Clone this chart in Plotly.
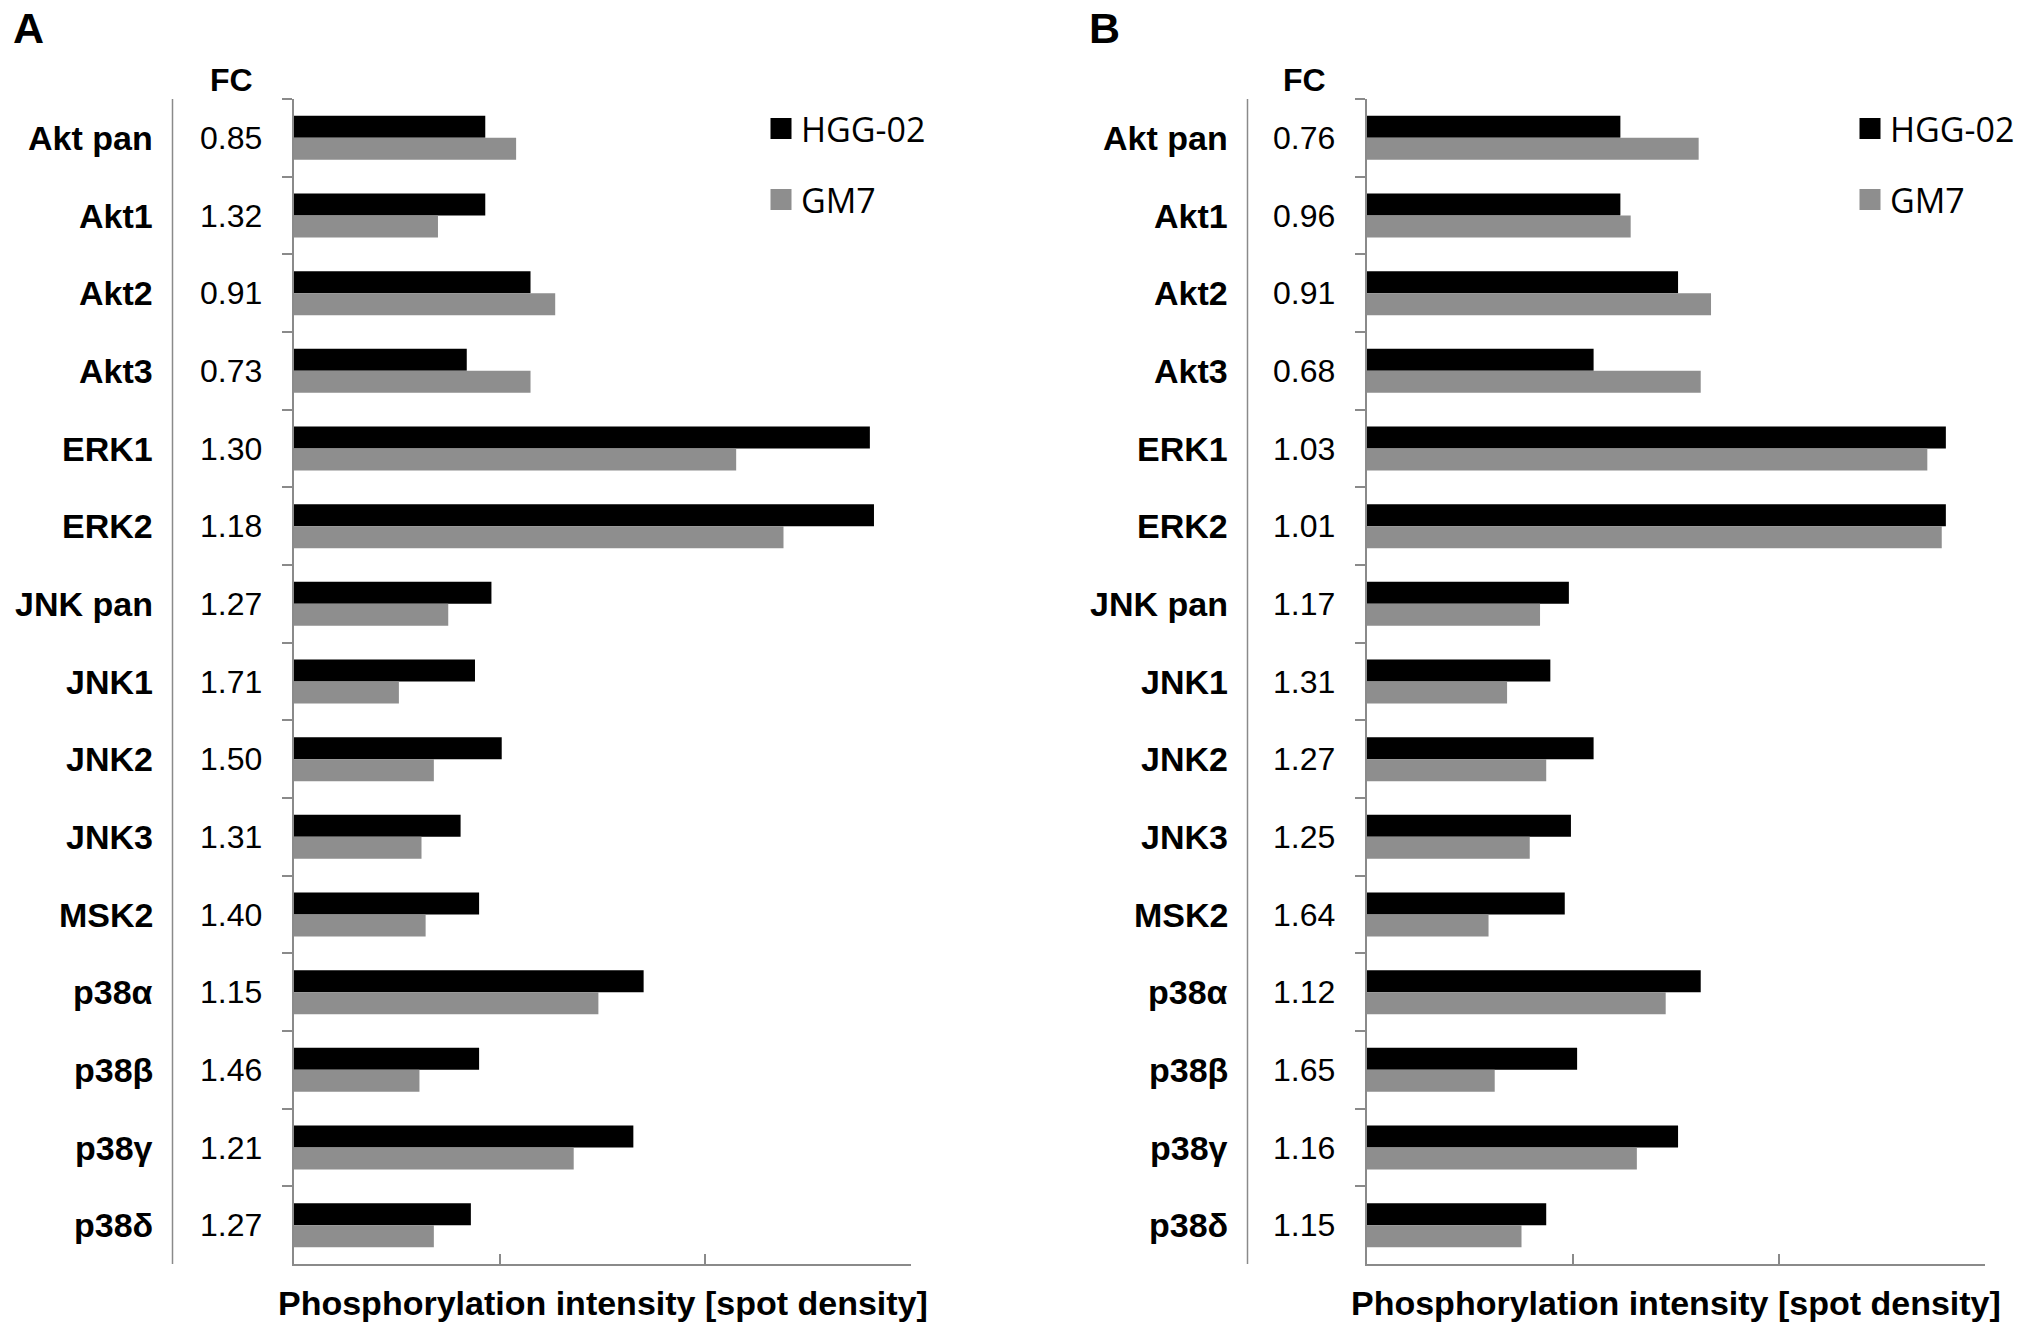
import plotly.graph_objects as go

W, H = 2031, 1335

categories = ["Akt pan", "Akt1", "Akt2", "Akt3", "ERK1", "ERK2", "JNK pan", "JNK1",
              "JNK2", "JNK3", "MSK2", "p38α", "p38β", "p38γ", "p38δ"]

# Panel A values (spot density, axis units)
a_hgg = [0.93, 0.93, 1.15, 0.84, 2.80, 2.82, 0.96, 0.88, 1.01, 0.81, 0.90, 1.70, 0.90, 1.65, 0.86]
a_gm7 = [1.08, 0.70, 1.27, 1.15, 2.15, 2.38, 0.75, 0.51, 0.68, 0.62, 0.64, 1.48, 0.61, 1.36, 0.68]
a_fc = ["0.85", "1.32", "0.91", "0.73", "1.30", "1.18", "1.27", "1.71", "1.50", "1.31",
        "1.40", "1.15", "1.46", "1.21", "1.27"]

# Panel B values
b_hgg = [1.23, 1.23, 1.51, 1.10, 2.81, 2.81, 0.98, 0.89, 1.10, 0.99, 0.96, 1.62, 1.02, 1.51, 0.87]
b_gm7 = [1.61, 1.28, 1.67, 1.62, 2.72, 2.79, 0.84, 0.68, 0.87, 0.79, 0.59, 1.45, 0.62, 1.31, 0.75]
b_fc = ["0.76", "0.96", "0.91", "0.68", "1.03", "1.01", "1.17", "1.31", "1.27", "1.25",
        "1.64", "1.12", "1.65", "1.16", "1.15"]

series_names = ["HGG-02", "GM7"]
x_ticks = [0, 1, 2, 3]
axis_title = "Phosphorylation intensity [spot density]"

BLACK = "#000000"
GRAY = "#8e8e8e"
AXIS = "#8a8a8a"
FONT = "Liberation Sans, Arial, sans-serif"
LEG_FONT = "Open Sans, Liberation Sans, sans-serif"

def px(x):
    return x / W

def py(y):
    return 1 - y / H

fig = go.Figure()

panels = [
    dict(xa="x", ya="y", hgg=a_hgg, gm7=a_gm7, fc=a_fc, dom=[294, 911], lab=155, fcx=231,
         sep=172.5, letter="A", lx=11, leg=("legend", "legend2"), legx=761),
    dict(xa="x2", ya="y2", hgg=b_hgg, gm7=b_gm7, fc=b_fc, dom=[1367, 1985], lab=1230, fcx=1304,
         sep=1247.5, letter="B", lx=1087, leg=("legend3", "legend4"), legx=1850),
]

annotations = []
shapes = []
for p in panels:
    for name, vals, col in ((series_names[0], p["hgg"], BLACK), (series_names[1], p["gm7"], GRAY)):
        fig.add_trace(go.Bar(y=categories, x=vals, orientation="h", name=name,
                             marker=dict(color=col, line=dict(width=0)),
                             xaxis=p["xa"], yaxis=p["ya"], showlegend=False))
    for name, col, lg in ((series_names[0], BLACK, p["leg"][0]), (series_names[1], GRAY, p["leg"][1])):
        fig.add_trace(go.Scatter(x=[None], y=[None], mode="markers", name=name,
                                 marker=dict(symbol="square", size=16, color=col,
                                             line=dict(width=5, color=col)),
                                 xaxis=p["xa"], yaxis=p["ya"], legend=lg, showlegend=True))
    for cat, fc in zip(categories, p["fc"]):
        annotations.append(dict(x=px(p["lab"]), xref="paper", y=cat, yref=p["ya"],
                                text=f"<b>{cat}</b>", showarrow=False, xanchor="right",
                                yanchor="middle", font=dict(family=FONT, size=34, color="black")))
        annotations.append(dict(x=px(p["fcx"]), xref="paper", y=cat, yref=p["ya"],
                                text=fc, showarrow=False, xanchor="center",
                                yanchor="middle", font=dict(family=FONT, size=32, color="black")))
    annotations.append(dict(x=px(p["fcx"]), xref="paper", y=py(80), yref="paper", text="<b>FC</b>",
                            showarrow=False, xanchor="center", yanchor="middle",
                            font=dict(family=FONT, size=32, color="black")))
    annotations.append(dict(x=px(p["lx"]), xref="paper", y=py(28), yref="paper",
                            text=f"<b>{p['letter']}</b>", showarrow=False, xanchor="left",
                            yanchor="middle", font=dict(family=FONT, size=43, color="black")))
    annotations.append(dict(x=0.5, xref=f"{p['xa']} domain", y=py(1303), yref="paper",
                            text=f"<b>{axis_title}</b>", showarrow=False, xanchor="center",
                            yanchor="middle", font=dict(family=FONT, size=34, color="black")))
    shapes.append(dict(type="line", xref="paper", yref="paper", x0=px(p["sep"]), x1=px(p["sep"]),
                       y0=py(99), y1=py(1264), line=dict(color=AXIS, width=1.5)))

xaxis_common = dict(range=[0, 3], tickvals=x_ticks, showticklabels=False, ticks="inside",
                    ticklen=10, tickwidth=1.5, tickcolor=AXIS, showline=True, linecolor=AXIS,
                    linewidth=1.5, showgrid=False, zeroline=False, fixedrange=True)
yaxis_common = dict(categoryorder="array", categoryarray=categories, range=[14.5, -0.5],
                    showticklabels=False, ticks="outside", tickson="boundaries", ticklen=10,
                    tickwidth=1.5, tickcolor=AXIS, showline=True, linecolor=AXIS, linewidth=1.5,
                    showgrid=False, zeroline=False, domain=[py(1264), py(99)], fixedrange=True)

def legend_cfg(x, y):
    return dict(x=px(x), y=py(y), xanchor="left", yanchor="middle", bgcolor="rgba(0,0,0,0)",
                borderwidth=0, font=dict(family=LEG_FONT, size=34, color="black"))

fig.update_layout(
    width=W, height=H, margin=dict(l=0, r=0, t=0, b=0),
    paper_bgcolor="white", plot_bgcolor="white",
    barmode="group", bargap=0.434, bargroupgap=0,
    xaxis=dict(domain=[px(294), px(911)], anchor="y", **xaxis_common),
    yaxis=dict(anchor="x", **yaxis_common),
    xaxis2=dict(domain=[px(1367), px(1985)], anchor="y2", **xaxis_common),
    yaxis2=dict(anchor="x2", **yaxis_common),
    legend=legend_cfg(panels[0]["legx"], 129),
    legend2=legend_cfg(panels[0]["legx"], 200),
    legend3=legend_cfg(panels[1]["legx"], 129),
    legend4=legend_cfg(panels[1]["legx"], 200),
    annotations=annotations, shapes=shapes,
    font=dict(family=FONT),
)

fig.write_html("out.html", config={"displayModeBar": False},
               post_script="document.body.style.margin='0';")
